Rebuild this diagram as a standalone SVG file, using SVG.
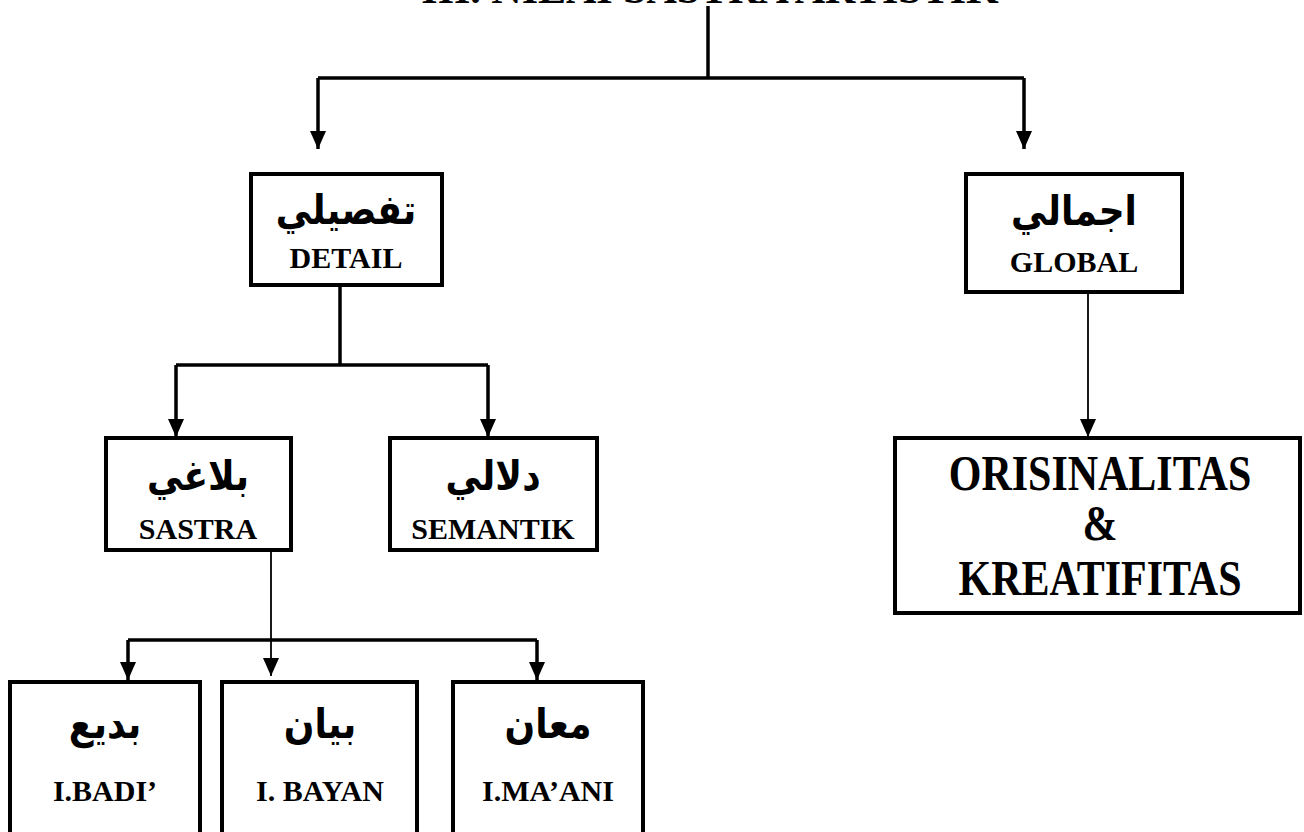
<svg xmlns="http://www.w3.org/2000/svg" width="1304" height="832" viewBox="0 0 1304 832">
<style>
.box{fill:#fff;stroke:#000;stroke-width:4}
.ar{font-family:"Liberation Serif","DejaVu Sans",serif;font-weight:bold;font-size:36px;text-anchor:middle;fill:#000}
.la{font-family:"Liberation Serif",serif;font-weight:bold;font-size:30px;text-anchor:middle;fill:#000}
.big{font-family:"Liberation Serif",serif;font-weight:bold;font-size:42px;text-anchor:middle;fill:#000}
.thick{fill:none;stroke:#000;stroke-width:3.5}
.thin{fill:none;stroke:#000;stroke-width:1.8}
</style>
<defs>
<marker id="ah" markerUnits="userSpaceOnUse" viewBox="0 0 18 16" markerWidth="18" markerHeight="16" refX="18" refY="8" orient="auto">
<path d="M0,0 L18,8 L0,16 z" fill="#000"/>
</marker>
</defs>
<text class="big" x="710" y="3" font-size="37">III. NILAI SASTRA ARTISTIK</text>
<g id="connectors">
<path class="thick" d="M708,6 V78"/>
<path class="thick" d="M318,78 H1024"/>
<path class="thick" d="M318,78 V149" marker-end="url(#ah)"/>
<path class="thick" d="M1024,78 V149" marker-end="url(#ah)"/>
<path class="thick" d="M340,285 V365"/>
<path class="thick" d="M176,365 H488"/>
<path class="thick" d="M176,365 V437" marker-end="url(#ah)"/>
<path class="thick" d="M488,365 V437" marker-end="url(#ah)"/>
<path class="thin" d="M1088,292 V437" marker-end="url(#ah)"/>
<path class="thin" d="M271,550 V676" marker-end="url(#ah)"/>
<path class="thick" d="M128,640 H537"/>
<path class="thick" d="M128,640 V680" marker-end="url(#ah)"/>
<path class="thick" d="M537,640 V680" marker-end="url(#ah)"/>
</g>
<g id="detail">
<rect class="box" x="251" y="174" width="191" height="111"/>
<text class="ar" transform="translate(346,224) scale(1,1.15)">تفصيلي</text>
<text class="la" x="346" y="268">DETAIL</text>
</g>
<g id="global">
<rect class="box" x="966" y="174" width="216" height="118"/>
<text class="ar" transform="translate(1074,225) scale(1,1.15)">اجمالي</text>
<text class="la" x="1074" y="272">GLOBAL</text>
</g>
<g id="sastra">
<rect class="box" x="106" y="438" width="185" height="112"/>
<text class="ar" transform="translate(198,490) scale(1,1.15)">بلاغي</text>
<text class="la" x="198" y="539">SASTRA</text>
</g>
<g id="semantik">
<rect class="box" x="390" y="438" width="207" height="112"/>
<text class="ar" transform="translate(493,490) scale(1,1.15)">دلالي</text>
<text class="la" x="493" y="539">SEMANTIK</text>
</g>
<g id="orisinalitas">
<rect class="box" x="895" y="438" width="405" height="175"/>
<text class="big" transform="translate(1100,490) scale(1,1.2)">ORISINALITAS</text>
<text class="big" transform="translate(1100,540) scale(1,1.2)">&amp;</text>
<text class="big" transform="translate(1100,595) scale(1,1.2)">KREATIFITAS</text>
</g>
<g id="badi">
<rect class="box" x="10" y="682" width="190" height="160"/>
<text class="ar" transform="translate(105,738) scale(1,1.15)">بديع</text>
<text class="la" x="105" y="801">I.BADI’</text>
</g>
<g id="bayan">
<rect class="box" x="222" y="682" width="195" height="160"/>
<text class="ar" transform="translate(320,738) scale(1,1.15)">بيان</text>
<text class="la" x="320" y="801">I. BAYAN</text>
</g>
<g id="maani">
<rect class="box" x="453" y="682" width="190" height="160"/>
<text class="ar" transform="translate(548,738) scale(1,1.15)">معان</text>
<text class="la" x="548" y="801">I.MA’ANI</text>
</g>
</svg>
